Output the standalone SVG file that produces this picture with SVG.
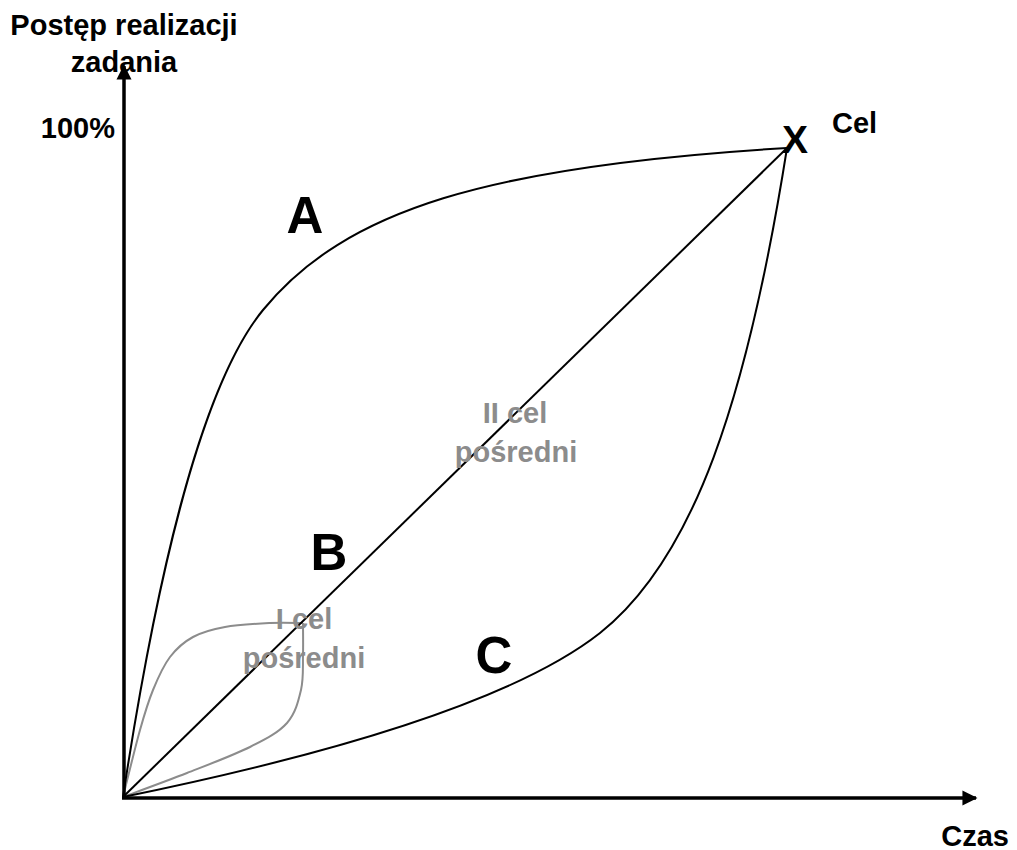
<svg xmlns="http://www.w3.org/2000/svg" width="1017" height="850" viewBox="0 0 1017 850">
<style>
text{font-family:"Liberation Sans",Arial,sans-serif;font-weight:bold;fill:#000}
.lbl{font-size:29px}
.big{font-size:51px}
.grey{font-size:29px;fill:#8c8c8c}
.axis{stroke:#000;stroke-width:3.5;fill:none}
.curve{stroke:#000;stroke-width:2;fill:none}
.gcurve{stroke:#8c8c8c;stroke-width:2;fill:none}
</style>
<defs>
<marker id="arr" viewBox="0 0 10 10" refX="9" refY="5" markerWidth="4.3" markerHeight="4.3" orient="auto" markerUnits="strokeWidth">
<path d="M0,0 L10,5 L0,10 Z" fill="#000"/>
</marker>
</defs>
<g id="connectors">
<path id="grey-upper" class="gcurve" d="M123,797 C125.8,785.8 135,747.8 140,730 C145,712.2 148,702.2 153,690 C158,677.8 163.3,665.8 170,657 C176.7,648.2 183.8,642 193,637 C202.2,632 212.2,629.3 225,627 C237.8,624.7 257,623.7 270,623 C283,622.3 297.5,623 303,623"/>
<path id="grey-lower" class="gcurve" d="M123,797 C133.7,793 165.8,781.3 187,773 C208.2,764.7 233.3,755.3 250,747 C266.7,738.7 278.5,732.5 287,723 C295.5,713.5 298.3,701.3 301,690 C303.7,678.7 302.7,666 303,655 C303.3,644 303,629.2 303,623"/>
<path id="curve-A" class="curve" d="M123,797 C156,580 200,387 263,310 C345,210 487,166 787,148"/>
<path id="line-B" class="curve" d="M123,797 L787,148"/>
<path id="curve-C" class="curve" d="M123,797 C299,761 506,707 600,633 C693.6,558.6 747,400.5 787,148"/>
<line id="y-axis" class="axis" x1="124" y1="798" x2="124" y2="66" marker-end="url(#arr)"/>
<line id="x-axis" class="axis" x1="122" y1="798" x2="976" y2="798" marker-end="url(#arr)"/>
</g>
<g id="y-label"><text class="lbl" x="124" y="35" text-anchor="middle">Postęp realizacji</text><text class="lbl" x="124" y="72" text-anchor="middle">zadania</text></g>
<g id="tick-100"><text class="lbl" x="115" y="138" text-anchor="end">100%</text></g>
<g id="x-label"><text class="lbl" x="1009" y="846" text-anchor="end">Czas</text></g>
<g id="goal"><text x="795" y="153" text-anchor="middle" style="font-size:39px">X</text><text class="lbl" x="832" y="133">Cel</text></g>
<g id="label-A"><text class="big" x="305" y="233" text-anchor="middle">A</text></g>
<g id="label-B"><text class="big" x="329" y="570" text-anchor="middle">B</text></g>
<g id="label-C"><text class="big" x="494" y="673" text-anchor="middle">C</text></g>
<g id="mid2"><text class="grey" x="515" y="423" text-anchor="middle">II cel</text><text class="grey" x="516" y="462" text-anchor="middle">pośredni</text></g>
<g id="mid1"><text class="grey" x="304" y="629" text-anchor="middle">I cel</text><text class="grey" x="304" y="668" text-anchor="middle">pośredni</text></g>
</svg>
